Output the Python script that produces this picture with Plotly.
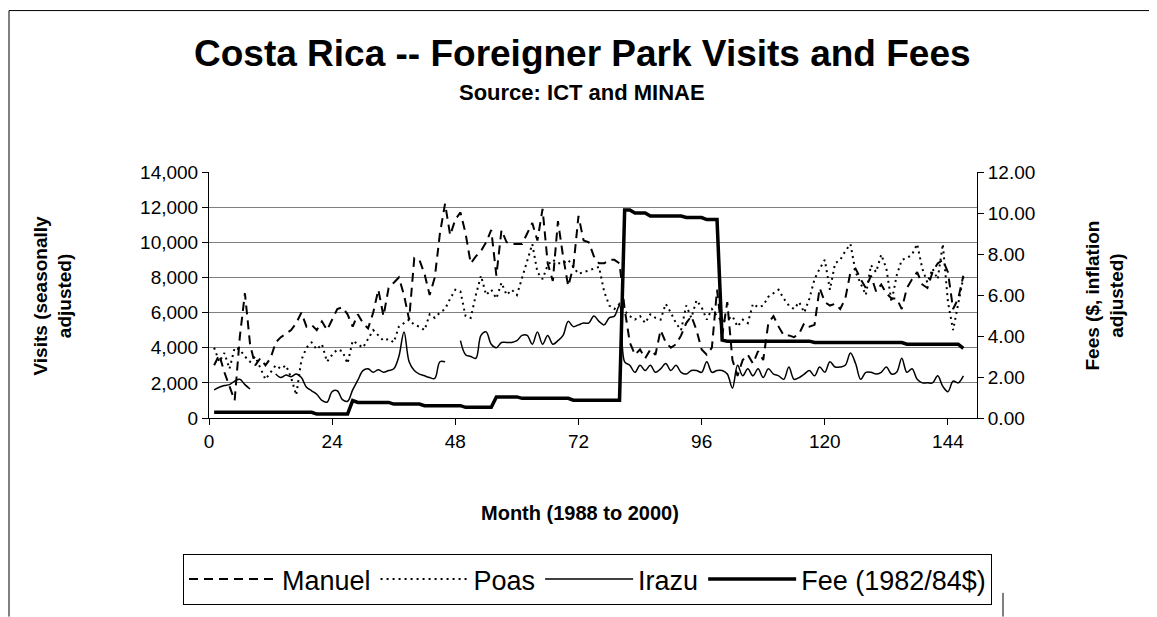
import plotly.graph_objects as go

# ---------------- data ----------------
months = list(range(1, 148))

manuel = [
    3000, 3600, 2600, 1800, 1000, 4600, 7100, 4200, 3000, 3400,
    3000, 3400, 4300, 4600, 4800, 5000, 5400, 6000, 5200, 5300,
    5000, 5500, 5000, 5600, 6200, 6300, 5900, 5200, 5900, 5400,
    5100, 6000, 7300, 5800, 7400, 7700, 8000, 7000, 5600, 9100,
    9000, 8200, 7000, 8000, 10500, 12200, 10400, 11300, 11700, 10500,
    8800, 9200, 9500, 10000, 10700, 8100, 10700, 10000, 9900, 9900,
    9900, 10500, 11100, 10100, 11900, 8800, 7800, 11200, 9200, 7500,
    8600, 11500, 10100, 10000, 9200, 8800, 8800, 9000, 9000, 8800,
    6200, 4300, 3600, 3900, 3400, 3900, 3600, 5000, 4300, 4000,
    4200, 4700, 5400, 5800, 5000, 3900, 3600, 4000, 7300, 4700,
    6600, 3300, 2400, 3300, 3600, 3100, 3800, 3300, 5400, 5800,
    5200, 4700, 4700, 4600, 4800, 5400, 5200, 5300, 7400, 6600,
    6400, 6500, 6200, 6800, 8300, 8500, 7900, 7400, 8100, 7200,
    7600, 7100, 6800, 6800, 6200, 7400, 7900, 8300, 7600, 7400,
    8300, 8800, 9000, 8300, 6200, 6800, 8100,
]

poas = [
    4000, 3200, 3700, 2800, 4000, 3900, 3500, 3200, 3500, 2800,
    2200, 2600, 3000, 2800, 3000, 2300, 1300, 3300, 4000, 4300,
    3900, 4200, 3200, 3600, 3900, 3800, 3100, 4400, 4200, 4000,
    4500, 5000, 4700, 4400, 4500, 4300, 5200, 5400, 5600, 5300,
    5200, 5000, 5900, 5700, 6000, 6200, 6800, 7300, 7200, 5800,
    5700, 7000, 8100, 7000, 7300, 6800, 7700, 7000, 7300, 7000,
    8000, 9000, 9900, 8300, 7900, 8700, 9000, 8800, 8800, 9000,
    8600, 8200, 8300, 8400, 8500, 8600, 7200, 6400, 6200, 6500,
    6100, 5800, 5600, 5800, 5400, 5900, 5700, 5600, 6500, 6000,
    5400, 5000, 6400, 5700, 6700, 6300, 5600, 6200, 5800, 5500,
    5600, 5800, 5200, 5600, 5400, 6500, 6300, 6400, 6900, 7100,
    7300, 6800, 6400, 6200, 6600, 6000, 6800, 7900, 8500, 9000,
    7300, 8800, 9000, 9500, 9900, 8300, 7600, 7000, 8700, 8300,
    9300, 8500, 6600, 8100, 9000, 9100, 9300, 9900, 8500, 7700,
    8500, 7900, 9900, 6600, 5000, 6400, 8000,
]

irazu = [
    1600, 1750, 1850, 1900, 2100, 2200, 1900, 1650, None, None,
    None, None, 2500, 2300, 2450, 2350, 2500, 2300, 1750, 1550,
    1350, 1000, 900, 1500, 1550, 1050, 950, 1600, 2150, 2700,
    2800, 2600, 2750, 2600, 2700, 2800, 3500, 4900, 3200, 2700,
    2500, 2400, 2300, 2250, 3200, 3200, None, None, 4400, 3600,
    3500, 3400, 4700, 4900, 4200, 4000, 4300, 4300, 4300, 4400,
    4700, 4700, 4200, 4900, 4200, 4700, 4200, 4400, 4700, 5500,
    5200, 5300, 5400, 5400, 5800, 5500, 5300, 5700, 5800, 6400,
    3200, 3000, 2600, 3000, 2700, 3000, 2600, 2800, 3100, 2700,
    3000, 2600, 2500, 2700, 2700, 2600, 3200, 2600, 2700, 2700,
    2500, 1700, 3000, 2400, 2800, 2400, 2800, 2300, 2800, 2500,
    2400, 2200, 2900, 2200, 2300, 2500, 2700, 2400, 2900, 2600,
    3200, 2900, 2900, 3000, 3700, 3100, 2200, 2600, 2600, 2500,
    2600, 2900, 2500, 2600, 3400, 2600, 2800, 2200, 2000, 2000,
    2000, 2400, 1800, 1500, 2100, 2000, 2400,
]

fee = [
    0.28, 0.28, 0.28, 0.28, 0.28, 0.28, 0.28, 0.28, 0.28, 0.28,
    0.28, 0.28, 0.28, 0.28, 0.28, 0.28, 0.28, 0.28, 0.28, 0.28,
    0.19, 0.19, 0.19, 0.19, 0.19, 0.19, 0.19, 0.85, 0.76, 0.76,
    0.76, 0.76, 0.76, 0.76, 0.76, 0.68, 0.68, 0.68, 0.68, 0.68,
    0.68, 0.60, 0.60, 0.60, 0.60, 0.60, 0.60, 0.60, 0.60, 0.52,
    0.52, 0.52, 0.52, 0.52, 0.52, 1.03, 1.03, 1.03, 1.03, 1.03,
    0.96, 0.96, 0.96, 0.96, 0.96, 0.96, 0.96, 0.96, 0.96, 0.96,
    0.87, 0.87, 0.87, 0.87, 0.87, 0.87, 0.87, 0.87, 0.87, 0.87,
    10.15, 10.15, 10.00, 10.00, 10.00, 9.85, 9.85, 9.85, 9.85, 9.85,
    9.85, 9.85, 9.78, 9.78, 9.78, 9.78, 9.68, 9.68, 9.68, 3.80,
    3.75, 3.75, 3.75, 3.75, 3.75, 3.75, 3.75, 3.75, 3.75, 3.75,
    3.75, 3.75, 3.75, 3.75, 3.75, 3.75, 3.75, 3.68, 3.68, 3.68,
    3.68, 3.68, 3.68, 3.68, 3.68, 3.68, 3.68, 3.68, 3.68, 3.68,
    3.68, 3.68, 3.68, 3.68, 3.68, 3.60, 3.60, 3.60, 3.60, 3.60,
    3.60, 3.60, 3.60, 3.60, 3.60, 3.60, 3.40,
]

x_ticks = [0, 24, 48, 72, 96, 120, 144]
y_ticks = [0, 2000, 4000, 6000, 8000, 10000, 12000, 14000]
y2_ticks = [0, 2, 4, 6, 8, 10, 12]

# ---------------- layout geometry (page pixels) ----------------
OFF = 8                      # default body margin of the html page
W, H = 1157, 617
L, R, T, B = 209, 977, 172, 421
FONT = "Liberation Sans, Arial, sans-serif"


def px(xp):
    return (xp - L) / (R - L)


def py(yp):
    return (B - yp) / (B - T)


fig = go.Figure()
fig.add_trace(go.Scatter(x=months, y=manuel, name="Manuel", mode="lines",
                         line=dict(color="black", width=2, dash="9px,6px")))
fig.add_trace(go.Scatter(x=months, y=poas, name="Poas", mode="lines",
                         line=dict(color="black", width=2, dash="2px,4px")))
fig.add_trace(go.Scatter(x=months, y=irazu, name="Irazu", mode="lines",
                         connectgaps=False,
                         line=dict(color="black", width=1.5, shape="spline", smoothing=1)))
fig.add_trace(go.Scatter(x=months, y=fee, name="Fee (1982/84$)", mode="lines",
                         yaxis="y2", line=dict(color="black", width=3.5)))

fig.update_layout(
    width=W - OFF, height=H - OFF,
    margin=dict(l=L - OFF, r=W - R, t=T - OFF, b=H - B, pad=0),
    paper_bgcolor="white", plot_bgcolor="white",
    font=dict(family=FONT, color="black"),
    showlegend=True,
    legend=dict(orientation="h", x=px(183), y=py(584.5), xanchor="left", yanchor="middle",
                bordercolor="black", borderwidth=1, font=dict(size=27, family=FONT),
                itemwidth=88, bgcolor="white"),
    xaxis=dict(range=[0, 149.66], tickvals=x_ticks, ticks="outside", ticklen=6,
               tickcolor="black", showline=True, linecolor="black", linewidth=1,
               showgrid=False, zeroline=False, tickfont=dict(size=19, family=FONT)),
    yaxis=dict(range=[0, 14000], tickvals=y_ticks, tickformat=",", ticks="outside",
               ticklen=6, tickcolor="black", showline=True, linecolor="black",
               linewidth=1, showgrid=True, gridcolor="#808080", gridwidth=1,
               zeroline=False, tickfont=dict(size=19, family=FONT)),
    yaxis2=dict(range=[0, 12], tickvals=y2_ticks, tickformat=".2f", overlaying="y",
                side="right", ticks="outside", ticklen=6, tickcolor="black",
                showline=True, linecolor="black", linewidth=1, showgrid=False,
                zeroline=False, tickfont=dict(size=19, family=FONT)),
)

ann = [
    dict(text="<b>Costa Rica -- Foreigner Park Visits and Fees</b>", x=px(582), y=py(52),
         font=dict(size=37)),
    dict(text="<b>Source: ICT and MINAE</b>", x=px(582), y=py(92), font=dict(size=22)),
    dict(text="<b>Month (1988 to 2000)</b>", x=px(580), y=py(517), font=dict(size=20)),
    dict(text="<b>Visits (seasonally<br>adjusted)</b>", x=px(53), y=py(297),
         textangle=-90, font=dict(size=19)),
    dict(text="<b>Fees ($, inflation<br>adjusted)</b>", x=px(1105), y=py(297),
         textangle=-90, font=dict(size=19)),
]
for a in ann:
    fig.add_annotation(xref="paper", yref="paper", showarrow=False,
                       xanchor="center", yanchor="middle", **a)

# chart-area border lines
fig.add_shape(type="line", xref="paper", yref="paper", x0=px(9), x1=px(W + 5),
              y0=py(8.6), y1=py(8.6), line=dict(color="black", width=1))
fig.add_shape(type="line", xref="paper", yref="paper", x0=px(9), x1=px(9),
              y0=py(8.6), y1=py(H + 5), line=dict(color="black", width=1))
fig.add_shape(type="line", xref="paper", yref="paper", x0=px(1003), x1=px(1003),
              y0=py(598), y1=py(H + 5), line=dict(color="black", width=1))

fig.write_html("out.html")
